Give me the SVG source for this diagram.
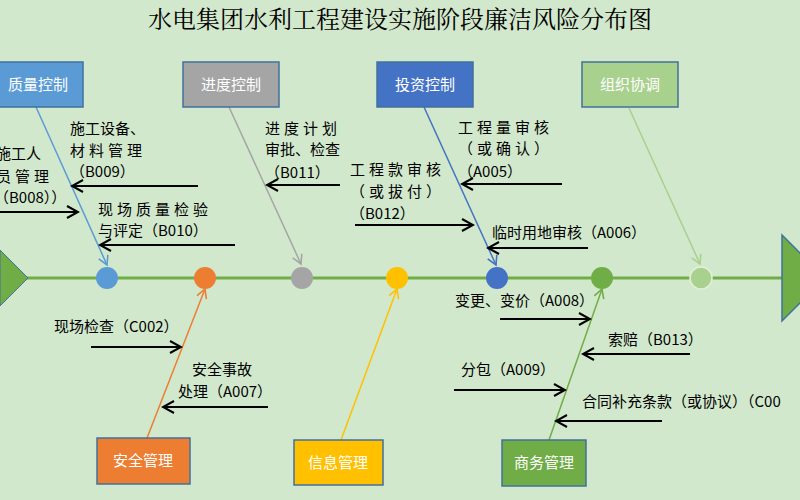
<svg xmlns="http://www.w3.org/2000/svg" width="800" height="500" viewBox="0 0 800 500">
<defs>
<marker id="a" markerWidth="12" markerHeight="12" refX="10" refY="6" orient="auto" markerUnits="userSpaceOnUse"><path d="M1,1 L10,6 L1,11" fill="none" stroke="context-stroke" stroke-width="1.6"/></marker>
<marker id="k" markerWidth="14" markerHeight="14" refX="12" refY="7" orient="auto" markerUnits="userSpaceOnUse"><path d="M1,1 L12,7 L1,13" fill="none" stroke="#000" stroke-width="2"/></marker>
</defs>
<style>
text{font-family:"Noto Sans CJK SC","Liberation Sans",sans-serif;font-size:15px;fill:#000}
.t{font-size:24px;font-family:"Noto Serif CJK SC","Noto Sans CJK SC",serif}
.w{fill:#fff;font-size:15px;text-anchor:middle}
.s{letter-spacing:4px}
.h{stroke:#000;stroke-width:2;marker-end:url(#k)}
.b{stroke:#41719c;stroke-width:1.5}
</style>
<rect width="800" height="500" fill="#d2e8cc"/>
<text class="t" x="400" y="28" text-anchor="middle">水电集团水利工程建设实施阶段廉洁风险分布图</text>
<g id="spine">
<line x1="0" y1="278" x2="790" y2="278" stroke="#70ad47" stroke-width="3"/>
<polygon points="0,250 28,278 0,306" fill="#70ad47" stroke="#41719c"/>
<polygon points="782,235 825,278 782,321" fill="#70ad47" stroke="#41719c" stroke-width="1.5"/>
<circle cx="107" cy="278" r="11" fill="#5b9bd5"/>
<circle cx="205" cy="278" r="11" fill="#ed7d31"/>
<circle cx="302" cy="278" r="11" fill="#a5a5a5"/>
<circle cx="397" cy="278" r="11" fill="#ffc000"/>
<circle cx="497" cy="278" r="11" fill="#4472c4"/>
<circle cx="602" cy="278" r="11" fill="#70ad47"/>
<circle cx="701" cy="278" r="11" fill="#a9d18e" stroke="#e2f0d9" stroke-width="1.5"/>
</g>
<g id="connectors" fill="none" stroke-width="1.5">
<line x1="36" y1="107" x2="107" y2="265" stroke="#5b9bd5" marker-end="url(#a)"/>
<line x1="229" y1="107" x2="301" y2="264" stroke="#a5a5a5" marker-end="url(#a)"/>
<line x1="424" y1="107" x2="496" y2="265" stroke="#4472c4" marker-end="url(#a)"/>
<line x1="629" y1="108" x2="700" y2="264" stroke="#a9d18e" marker-end="url(#a)"/>
<line x1="147" y1="438" x2="205" y2="289" stroke="#ed7d31" marker-end="url(#a)"/>
<line x1="341" y1="440" x2="397" y2="289" stroke="#ffc000" marker-end="url(#a)"/>
<line x1="549" y1="440" x2="602" y2="289" stroke="#70ad47" marker-end="url(#a)"/>
<line class="h" x1="198" y1="186" x2="72" y2="186"/>
<line class="h" x1="0" y1="212" x2="78" y2="212"/>
<line class="h" x1="235" y1="245" x2="100" y2="245"/>
<line class="h" x1="340" y1="185" x2="267" y2="185"/>
<line class="h" x1="355" y1="225" x2="473" y2="225"/>
<line class="h" x1="562" y1="184" x2="462" y2="184"/>
<line class="h" x1="588" y1="248" x2="488" y2="248"/>
<line class="h" x1="91" y1="347" x2="181" y2="347"/>
<line class="h" x1="268" y1="407" x2="163" y2="407"/>
<line class="h" x1="500" y1="319" x2="590" y2="319"/>
<line class="h" x1="690" y1="354" x2="583" y2="354"/>
<line class="h" x1="454" y1="390" x2="565" y2="390"/>
<line class="h" x1="662" y1="421" x2="556" y2="421"/>
</g>
<g id="n1"><rect class="b" x="-5" y="62" width="88" height="45" fill="#5b9bd5"/><text class="w" x="38" y="90">质量控制</text></g>
<g id="n2"><rect class="b" x="183" y="62" width="96" height="45" fill="#a5a5a5"/><text class="w" x="231" y="90">进度控制</text></g>
<g id="n3"><rect class="b" x="377" y="62" width="96" height="45" fill="#4472c4"/><text class="w" x="425" y="90">投资控制</text></g>
<g id="n4"><rect class="b" x="582" y="62" width="96" height="45" fill="#a9d18e"/><text class="w" x="630" y="90">组织协调</text></g>
<g id="n5"><rect class="b" x="97" y="438" width="93" height="46" fill="#ed7d31"/><text class="w" x="143" y="466">安全管理</text></g>
<g id="n6"><rect class="b" x="294" y="440" width="89" height="45" fill="#ffc000"/><text class="w" x="338" y="468">信息管理</text></g>
<g id="n7"><rect class="b" x="502" y="440" width="84" height="46" fill="#70ad47"/><text class="w" x="544" y="468">商务管理</text></g>
<g id="labels">
<text x="70" y="134">施工设备、</text>
<text class="s" x="70" y="156">材料管理</text>
<text x="70" y="177">（B009）</text>
<text x="-4" y="159">施工人</text>
<text class="s" x="-4" y="182">员管理</text>
<text x="-6" y="203">（B008））</text>
<text class="s" x="98" y="215">现场质量检验</text>
<text x="98" y="236">与评定（B010）</text>
<text class="s" x="265" y="134">进度计划</text>
<text x="265" y="155">审批、检查</text>
<text x="265" y="178">（B011）</text>
<text class="s" x="350" y="175">工程款审核</text>
<text class="s" x="350" y="197">（或拔付）</text>
<text x="350" y="219">（B012）</text>
<text class="s" x="458" y="133">工程量审核</text>
<text class="s" x="458" y="154">（或确认）</text>
<text x="458" y="177">（A005）</text>
<text x="492" y="238">临时用地审核（A006）</text>
<text x="54" y="332">现场检查（C002）</text>
<text x="192" y="375">安全事故</text>
<text x="178" y="397">处理（A007）</text>
<text x="455" y="306">变更、变价（A008）</text>
<text x="608" y="345">索赔（B013）</text>
<text x="461" y="375">分包（A009）</text>
<text x="582" y="407">合同补充条款（或协议）（C00</text>
</g>
</svg>
